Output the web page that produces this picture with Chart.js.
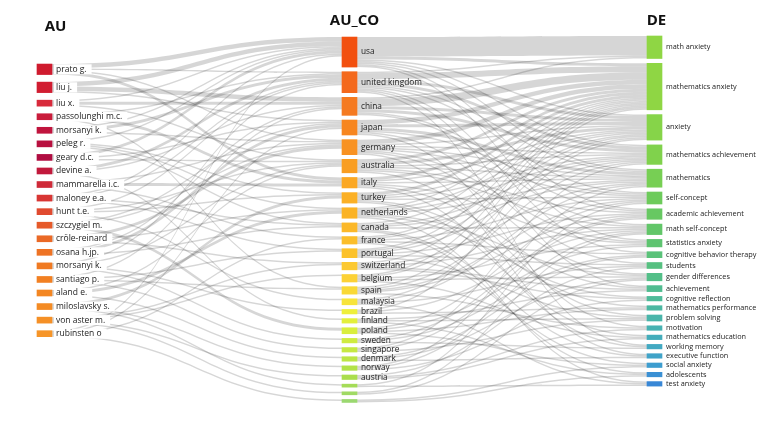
<!DOCTYPE html>
<html lang="en">
<head>
<meta charset="UTF-8">
<title>Three-Field Plot</title>
<script src="https://cdn.jsdelivr.net/npm/chart.js"></script>
<style>
    html, body { margin: 0; padding: 0; background: #fff; }
    #wrap { width: 768px; height: 421px; }
</style>
</head>
<body>
<div id="wrap"><canvas id="tfp"></canvas></div>

<script>
    const headers = ['AU', 'AU_CO', 'DE'];

    const auNames = ['prato g.', 'liu j.', 'liu x.', 'passolunghi m.c.', 'morsanyi k.', 'peleg r.', 'geary d.c.',
        'devine a.', 'mammarella i.c.', 'maloney e.a.', 'hunt t.e.', 'szczygiel m.', 'cröle-reinard', 'osana h.jp.',
        'morsanyi k.', 'santiago p.', 'aland e.', 'miloslavsky s.', 'von aster m.', 'rubinsten o'];

    const coNames = ['usa', 'united kingdom', 'china', 'japan', 'germany', 'australia', 'italy', 'turkey',
        'netherlands', 'canada', 'france', 'portugal', 'switzerland', 'belgium', 'spain', 'malaysia', 'brazil',
        'finland', 'poland', 'sweden', 'singapore', 'denmark', 'norway', 'austria', '', '', ''];

    const deNames = ['math anxiety', 'mathematics anxiety', 'anxiety', 'mathematics achievement', 'mathematics',
        'self-concept', 'academic achievement', 'math self-concept', 'statistics anxiety', 'cognitive behavior therapy',
        'students', 'gender differences', 'achievement', 'cognitive reflection', 'mathematics performance',
        'problem solving', 'motivation', 'mathematics education', 'working memory', 'executive function',
        'social anxiety', 'adolescents', 'test anxiety'];

    // [author, country, weight]
    const auCoLinks = [
        [0, 0, 3], [0, 6, 2], [0, 1, 1], [0, 4, 1],
        [1, 0, 3], [1, 2, 3], [1, 3, 1],
        [2, 2, 2], [2, 0, 1], [2, 5, 1],
        [3, 6, 2], [3, 1, 1], [3, 14, 1],
        [4, 1, 2], [4, 0, 1], [4, 4, 1],
        [5, 0, 1], [5, 7, 1], [5, 8, 1], [5, 9, 1],
        [6, 0, 2], [6, 3, 1], [6, 5, 1],
        [7, 1, 2], [7, 2, 1], [7, 17, 1],
        [8, 6, 2], [8, 4, 1], [8, 10, 1],
        [9, 9, 1], [9, 0, 1], [9, 1, 1], [9, 11, 1],
        [10, 1, 1], [10, 5, 1], [10, 7, 1], [10, 15, 1],
        [11, 18, 2], [11, 4, 1], [11, 3, 1],
        [12, 4, 2], [12, 12, 1], [12, 8, 1],
        [13, 9, 1], [13, 3, 2], [13, 2, 1],
        [14, 1, 1], [14, 5, 1], [14, 16, 1], [14, 19, 1],
        [15, 11, 1], [15, 14, 1], [15, 2, 1], [15, 20, 1],
        [16, 8, 2], [16, 5, 1], [16, 21, 1],
        [17, 7, 2], [17, 22, 1], [17, 24, 1],
        [18, 12, 1], [18, 23, 1], [18, 13, 1], [18, 25, 1],
        [19, 0, 1], [19, 3, 1], [19, 26, 1], [19, 10, 1]
    ];

    // [country, keyword, weight]
    const coDeLinks = [
        [0, 0, 13], [0, 1, 2], [0, 2, 1], [0, 3, 1], [0, 4, 1], [0, 8, 1], [0, 6, 1],
        [1, 0, 1], [1, 1, 4], [1, 2, 2], [1, 3, 2], [1, 4, 1], [1, 5, 1], [1, 9, 1], [1, 18, 1], [1, 12, 1],
        [2, 0, 1], [2, 1, 5], [2, 2, 2], [2, 3, 2], [2, 6, 1], [2, 7, 1],
        [3, 1, 3], [3, 2, 2], [3, 4, 2], [3, 5, 1], [3, 10, 1], [3, 16, 1],
        [4, 1, 3], [4, 2, 1], [4, 3, 1], [4, 4, 1], [4, 5, 1], [4, 11, 1], [4, 19, 1], [4, 8, 1],
        [5, 1, 2], [5, 2, 2], [5, 3, 1], [5, 4, 1], [5, 6, 1], [5, 7, 1], [5, 15, 1],
        [6, 1, 2], [6, 2, 1], [6, 4, 1], [6, 18, 1], [6, 12, 1], [6, 8, 1],
        [7, 1, 2], [7, 2, 1], [7, 3, 1], [7, 5, 1], [7, 14, 1], [7, 17, 1],
        [8, 1, 1], [8, 2, 1], [8, 3, 1], [8, 4, 1], [8, 11, 1], [8, 13, 1], [8, 22, 1],
        [9, 1, 1], [9, 3, 1], [9, 4, 1], [9, 7, 1], [9, 19, 1], [9, 21, 1],
        [10, 1, 1], [10, 2, 1], [10, 5, 1], [10, 9, 1], [10, 20, 1],
        [11, 1, 1], [11, 2, 1], [11, 3, 1], [11, 6, 1], [11, 10, 1], [11, 15, 1],
        [12, 1, 1], [12, 4, 1], [12, 7, 1], [12, 13, 1], [12, 12, 1],
        [13, 1, 1], [13, 2, 1], [13, 8, 1], [13, 11, 1], [13, 17, 1],
        [14, 1, 1], [14, 3, 1], [14, 5, 1], [14, 6, 1], [14, 16, 1],
        [15, 2, 1], [15, 4, 1], [15, 10, 1], [15, 22, 1],
        [16, 1, 1], [16, 7, 1], [16, 14, 1],
        [17, 15, 1], [17, 12, 1], [17, 21, 1],
        [18, 14, 1], [18, 5, 1], [18, 20, 1], [18, 8, 1],
        [19, 6, 1], [19, 9, 1], [19, 18, 1],
        [20, 3, 1], [20, 6, 1], [20, 15, 1],
        [21, 9, 1], [21, 11, 1], [21, 19, 1],
        [22, 4, 1], [22, 7, 1], [22, 13, 1],
        [23, 16, 1], [23, 10, 1], [23, 17, 1],
        [24, 5, 1], [24, 22, 1],
        [25, 7, 1], [25, 11, 1],
        [26, 20, 1], [26, 21, 1]
    ];

    // colours
    const auColors = ['#cf1b2e', '#d11d31', '#d82a3b', '#c91c3b', '#c0143d', '#b8103f', '#b00d41', '#c1193c',
        '#cf2a38', '#d83634', '#e04a2f', '#e65a2a', '#ea6926', '#ee7324', '#f07a22', '#f28022', '#f38622',
        '#f48b24', '#f59026', '#f69528'];
    const coColors = ['#f2500f', '#f4691c', '#f57a20', '#f7861f', '#f89222', '#f99e22', '#fba824', '#fbb025',
        '#fbb325', '#fbb829', '#fbbe2a', '#fcc22b', '#fcc932', '#fcd135', '#f9d935', '#f7e43a', '#eeef3a',
        '#e3ef3b', '#d9ee3d', '#cfeb40', '#c6e843', '#bce545', '#b2e248', '#aade4c', '#a5dc58', '#a0da64',
        '#9bd870'];
    const deColors = ['#8fd644', '#8fd644', '#86d449', '#80d24c', '#77cf54', '#6dcb5b', '#67c862', '#62c669',
        '#5ec470', '#5ac279', '#56c080', '#53bf88', '#50bc90', '#4ebb99', '#4bb8a2', '#49b5aa', '#47b2b2',
        '#44adbb', '#42a9c2', '#40a3c8', '#3d9dcf', '#3a90d4', '#3887d6'];

    const sumBy = (links, key, i) => links.filter(l => l[key] === i).reduce((s, l) => s + l[2], 0);
    const auVal = auNames.map((_, i) => sumBy(auCoLinks, 0, i));
    const coVal = coNames.map((_, i) => Math.max(sumBy(auCoLinks, 1, i), sumBy(coDeLinks, 0, i)));
    const deVal = deNames.map((_, i) => sumBy(coDeLinks, 1, i));

    // stack node boxes down each column (y axis units)
    function stack(values, top, gap) {
        let y = top;
        return values.map(v => {
            const r = [y, y + v];
            y += v + gap;
            return r;
        });
    }
    const auPos = stack(auVal, 42.7, 5.04);
    const coPos = stack(coVal, 24.7, 3.1);
    const dePos = stack(deVal, 24, 3.2);

    // where each band enters/leaves its nodes
    function bands(links, srcPos, tgtPos) {
        const out = links.map(() => ({}));
        const bySrc = {}, byTgt = {};
        links.forEach((l, i) => {
            (bySrc[l[0]] = bySrc[l[0]] || []).push(i);
            (byTgt[l[1]] = byTgt[l[1]] || []).push(i);
        });
        Object.keys(bySrc).forEach(k => {
            let y = srcPos[k][0];
            bySrc[k].sort((a, b) => tgtPos[links[a][1]][0] - tgtPos[links[b][1]][0]).forEach(i => {
                out[i].s0 = y; y += links[i][2]; out[i].s1 = y;
            });
        });
        Object.keys(byTgt).forEach(k => {
            let y = tgtPos[k][0];
            byTgt[k].sort((a, b) => srcPos[links[a][0]][0] - srcPos[links[b][0]][0]).forEach(i => {
                out[i].t0 = y; y += links[i][2]; out[i].t1 = y;
            });
        });
        return out;
    }
    const bandsA = bands(auCoLinks, auPos, coPos);
    const bandsB = bands(coDeLinks, coPos, dePos);

    const BOX = 15;

    const linkPlugin = {
        id: 'links',
        beforeDatasetsDraw(chart) {
            const {ctx, scales: {x, y}} = chart;
            ctx.save();
            ctx.fillStyle = 'rgba(0,0,0,0.16)';
            [[bandsA, 0], [bandsB, 1]].forEach(([list, col]) => {
                const x0 = x.getPixelForValue(col) + BOX / 2;
                const x1 = x.getPixelForValue(col + 1) - BOX / 2;
                const xm = (x0 + x1) / 2;
                list.forEach(b => {
                    const s0 = y.getPixelForValue(b.s0), s1 = y.getPixelForValue(b.s1);
                    const t0 = y.getPixelForValue(b.t0), t1 = y.getPixelForValue(b.t1);
                    ctx.beginPath();
                    ctx.moveTo(x0, s0);
                    ctx.bezierCurveTo(xm, s0, xm, t0, x1, t0);
                    ctx.lineTo(x1, t1);
                    ctx.bezierCurveTo(xm, t1, xm, s1, x0, s1);
                    ctx.closePath();
                    ctx.fill();
                });
            });
            ctx.restore();
        },
        afterDatasetsDraw(chart) {
            const {ctx, scales: {x, y}} = chart;
            ctx.save();
            ctx.textBaseline = 'middle';
            const fonts = ['8.5px "Open Sans"', '8.3px "Open Sans"', '7.3px "Open Sans"'];
            [[auNames, auPos, 0], [coNames, coPos, 1], [deNames, dePos, 2]].forEach(([names, pos, col]) => {
                const lx = x.getPixelForValue(col) + BOX / 2 + 4;
                ctx.font = fonts[col];
                names.forEach((n, i) => {
                    if (!n) return;
                    const ly = y.getPixelForValue((pos[i][0] + pos[i][1]) / 2);
                    if (col === 0) {
                        ctx.fillStyle = '#fff';
                        ctx.fillRect(lx - 2, ly - 5, ctx.measureText(n).width + 7, 10);
                    }
                    ctx.fillStyle = '#222';
                    ctx.fillText(n, lx, ly);
                });
            });
            // column titles
            ctx.fillStyle = '#111';
            ctx.font = 'bold 15px "Open Sans"';
            ctx.textAlign = 'center';
            const dx = [11, 5, 2], hy = [27, 21, 21];
            headers.forEach((h, i) => ctx.fillText(h, x.getPixelForValue(i) + dx[i], hy[i]));
            ctx.restore();
        }
    };

    const column = (pos, col, colors, label) => ({
        label: label,
        data: pos.map(p => ({x: col, y: p})),
        backgroundColor: colors,
        barThickness: BOX,
        grouped: false,
        clip: false
    });

    new Chart(document.getElementById('tfp'), {
        type: 'bar',
        data: {
            datasets: [
                column(auPos, 0, auColors, headers[0]),
                column(coPos, 1, coColors, headers[1]),
                column(dePos, 2, deColors, headers[2])
            ]
        },
        options: {
            responsive: true,
            maintainAspectRatio: false,
            animation: false,
            layout: {padding: {left: 44.5, right: 113.5, top: 0, bottom: 1}},
            scales: {
                x: {type: 'linear', min: 0, max: 2, offset: false, display: false},
                y: {type: 'linear', min: 0, max: 280, reverse: true, display: false}
            },
            plugins: {legend: {display: false}, tooltip: {enabled: false}}
        },
        plugins: [linkPlugin]
    });
</script>
</body>
</html>
